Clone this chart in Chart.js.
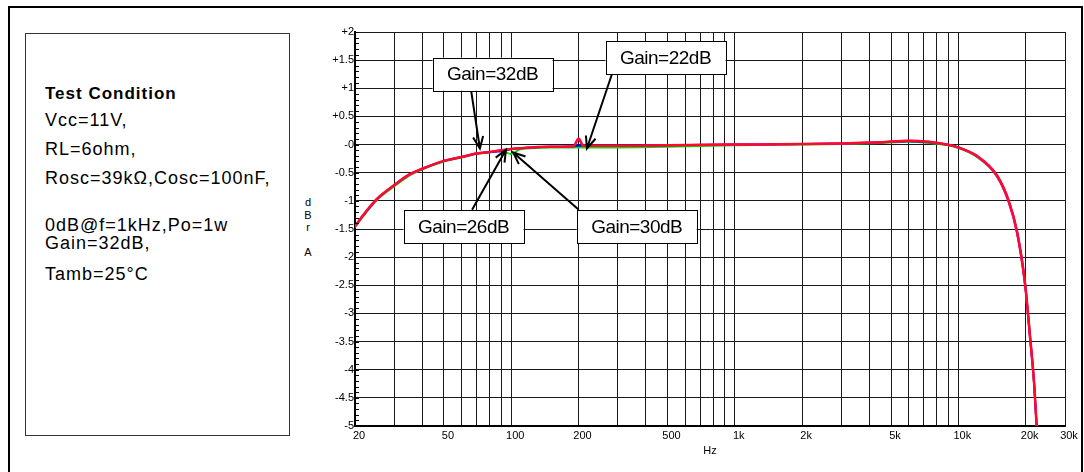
<!DOCTYPE html>
<html lang="en">
<head>
<meta charset="UTF-8">
<title>Frequency response</title>
<script src="https://cdn.jsdelivr.net/npm/chart.js@4.4.0/dist/chart.umd.min.js"></script>
<style>
  html, body { margin: 0; padding: 0; background: #fff; }
  body { width: 1084px; height: 472px; position: relative; overflow: hidden; font-family: 'Liberation Sans', Arial, sans-serif; }
  #frame { position: absolute; left: 8px; top: 6px; width: 1071px; height: 480px; border: 2px solid #000; }
  #cond { position: absolute; left: 25px; top: 33px; width: 263px; height: 401px; border: 1px solid #333; }
  #cond div { position: absolute; left: 19px; font-size: 18px; line-height: 20px; color: #000; white-space: nowrap; letter-spacing: 1px; }
  #cond .hd { font-weight: bold; font-size: 17px; letter-spacing: 1px; }
  #ylab { position: absolute; left: 302px; top: 196px; width: 12px; text-align: center; font-size: 11px; line-height: 12.5px; color: #000; }
  #chart { position: absolute; left: 0; top: 0; }
</style>
</head>
<body>
<div id="frame"></div>
<div id="cond">
  <div class="hd" style="top:50px">Test Condition</div>
  <div style="top:76px">Vcc=11V,</div>
  <div style="top:105px">RL=6ohm,</div>
  <div style="top:134px">Rosc=39kΩ,Cosc=100nF,</div>
  <div style="top:181px">0dB@f=1kHz,Po=1w</div>
  <div style="top:199px">Gain=32dB,</div>
  <div style="top:230px">Tamb=25°C</div>
</div>
<div id="ylab">d<br>B<br>r<br><br>A</div>
<canvas id="chart" width="1084" height="472"></canvas>
<script>
// frequency points (Hz)
const freqHz = [20, 22, 25, 30, 35, 40, 50, 60, 70, 80, 90, 100, 110, 150, 190, 200, 210, 300, 500,
  1000, 2000, 3000, 4500, 6000, 7400, 8900, 10000, 12100, 14900, 16800, 18300, 19900, 20900, 21800, 22400];

// response in dBr for each gain setting
const gain32 = [-1.45, -1.23, -0.97, -0.72, -0.53, -0.43, -0.29, -0.22, -0.16, -0.13, -0.10, -0.08, -0.065, -0.04, -0.03, 0.11, -0.02, -0.02, -0.01,
  0, 0.01, 0.02, 0.04, 0.07, 0.05, 0, -0.05, -0.2, -0.55, -1.0, -1.54, -2.48, -3.38, -4.21, -5.0];
const gain22 = [-1.46, -1.24, -0.98, -0.72, -0.54, -0.43, -0.29, -0.22, -0.16, -0.13, -0.10, -0.08, -0.065, -0.04, -0.03, 0.09, -0.02, -0.02, -0.01,
  0, 0.01, 0.02, 0.04, 0.07, 0.05, 0, -0.05, -0.21, -0.57, -1.03, -1.58, -2.52, -3.42, -4.25, -5.0];
const gain26 = [-1.45, -1.23, -0.97, -0.72, -0.53, -0.43, -0.29, -0.22, -0.16, -0.13, -0.12, -0.08, -0.065, -0.04, -0.03, -0.02, -0.02, -0.02, -0.01,
  0, 0.01, 0.02, 0.04, 0.06, 0.04, 0, -0.05, -0.2, -0.55, -1.0, -1.54, -2.48, -3.38, -4.21, -5.0];
const gain30 = [-1.47, -1.25, -0.99, -0.74, -0.55, -0.44, -0.30, -0.23, -0.17, -0.14, -0.11, -0.17, -0.08, -0.05, -0.05, -0.05, -0.05, -0.05, -0.04,
  -0.01, 0, 0.01, 0.03, 0.05, 0.03, -0.01, -0.06, -0.22, -0.57, -1.02, -1.56, -2.5, -3.4, -4.23, -5.0];

// axes
const xGridValues = [20, 30, 40, 50, 60, 70, 80, 90, 100, 200, 300, 400, 500, 600, 700, 800, 900,
  1000, 2000, 3000, 4000, 5000, 6000, 7000, 8000, 9000, 10000, 20000, 30000];
const xLabelValues = [20, 50, 100, 200, 500, 1000, 2000, 5000, 10000, 20000, 30000];
const xLabelTexts = ['20', '50', '100', '200', '500', '1k', '2k', '5k', '10k', '20k', '30k'];
const yTickValues = [-5, -4.5, -4, -3.5, -3, -2.5, -2, -1.5, -1, -0.5, 0, 0.5, 1, 1.5, 2];
const yTickLabels = ['-5', '-4.5', '-4', '-3.5', '-3', '-2.5', '-2', '-1.5', '-1', '-0.5', '-0', '+0.5', '+1', '+1.5', '+2'];

// callouts: label, box centre, arrow tail, arrow tip (Hz, dBr)
const calloutText = ['Gain=32dB', 'Gain=22dB', 'Gain=26dB', 'Gain=30dB'];
const calloutBoxHz = [82.5, 490, 61.2, 364];
const calloutBoxDb = [1.25, 1.54, -1.455, -1.455];
const calloutTailHz = [66.2, 282, 66.8, 200.5];
const calloutTailDb = [0.95, 1.25, -1.16, -1.16];
const calloutTipHz = [72.4, 218, 94.7, 102];
const calloutTipDb = [-0.07, -0.07, -0.09, -0.14];

const FONT = "'Liberation Sans', Arial, sans-serif";
const toPts = arr => freqHz.map((f, i) => ({ x: f, y: arr[i] }));

const minorTicks = {
  id: 'minorTicks',
  afterDraw(chart) {
    const ctx = chart.ctx, y = chart.scales.y, left = chart.chartArea.left;
    ctx.save();
    ctx.strokeStyle = '#000';
    ctx.lineWidth = 1;
    for (let k = -50; k <= 20; k++) {
      const py = Math.round(y.getPixelForValue(k / 10)) + 0.5;
      ctx.beginPath();
      ctx.moveTo(left, py);
      ctx.lineTo(left + 4, py);
      ctx.stroke();
    }
    ctx.restore();
  }
};

const callouts = {
  id: 'callouts',
  afterDatasetsDraw(chart) {
    const ctx = chart.ctx, sx = chart.scales.x, sy = chart.scales.y;
    ctx.save();
    ctx.strokeStyle = '#000';
    ctx.lineWidth = 2;
    calloutText.forEach((t, i) => {
      const x0 = sx.getPixelForValue(calloutTailHz[i]), y0 = sy.getPixelForValue(calloutTailDb[i]);
      const x1 = sx.getPixelForValue(calloutTipHz[i]), y1 = sy.getPixelForValue(calloutTipDb[i]);
      const a = Math.atan2(y1 - y0, x1 - x0);
      ctx.beginPath();
      ctx.moveTo(x0, y0);
      ctx.lineTo(x1, y1);
      ctx.moveTo(x1 - 13 * Math.cos(a - 0.4), y1 - 13 * Math.sin(a - 0.4));
      ctx.lineTo(x1, y1);
      ctx.lineTo(x1 - 13 * Math.cos(a + 0.4), y1 - 13 * Math.sin(a + 0.4));
      ctx.stroke();
    });
    ctx.lineWidth = 1;
    ctx.font = '19px ' + FONT;
    ctx.textAlign = 'center';
    ctx.textBaseline = 'middle';
    if ('letterSpacing' in ctx) ctx.letterSpacing = '-0.5px';
    calloutText.forEach((t, i) => {
      const cx = sx.getPixelForValue(calloutBoxHz[i]), cy = sy.getPixelForValue(calloutBoxDb[i]);
      const w = 120, h = 33;
      ctx.fillStyle = '#fff';
      ctx.fillRect(cx - w / 2, cy - h / 2, w, h);
      ctx.strokeRect(Math.round(cx - w / 2) + 0.5, Math.round(cy - h / 2) + 0.5, w, h);
      ctx.fillStyle = '#000';
      ctx.fillText(t, cx, cy + 1);
    });
    ctx.restore();
  }
};

new Chart(document.getElementById('chart'), {
  type: 'line',
  data: {
    datasets: [
      { label: 'Gain=32dB', data: toPts(gain32), borderColor: '#ff0a2a', borderWidth: 2.5 },
      { label: 'Gain=22dB', data: toPts(gain22), borderColor: '#ff00ff', borderWidth: 2 },
      { label: 'Gain=26dB', data: toPts(gain26), borderColor: '#0000ff', borderWidth: 2 },
      { label: 'Gain=30dB', data: toPts(gain30), borderColor: '#00e000', borderWidth: 2 }
    ]
  },
  options: {
    responsive: false,
    animation: false,
    events: [],
    elements: { point: { radius: 0 }, line: { cubicInterpolationMode: 'monotone' } },
    layout: { padding: { left: 300, right: 19, top: 32, bottom: 10 } },
    plugins: { legend: { display: false }, tooltip: { enabled: false } },
    scales: {
      x: {
        type: 'logarithmic', min: 20, max: 30000,
        afterBuildTicks: s => { s.ticks = xGridValues.map(v => ({ value: v })); },
        afterFit: s => { s.height = 36; },
        grid: { color: '#1a1a1a', lineWidth: 1, drawTicks: false },
        border: { color: '#000', width: 2 },
        ticks: {
          autoSkip: false, maxRotation: 0, minRotation: 0, padding: 3, labelOffset: 4,
          color: '#000', font: { family: FONT, size: 11 },
          callback: v => { const i = xLabelValues.indexOf(v); return i >= 0 ? xLabelTexts[i] : ''; }
        },
        title: { display: true, text: 'Hz', color: '#000', font: { family: FONT, size: 11 }, padding: { top: 0, bottom: 4 } }
      },
      y: {
        type: 'linear', min: -5, max: 2,
        afterBuildTicks: s => { s.ticks = yTickValues.map(v => ({ value: v })); },
        afterFit: s => { s.width = 55; },
        grid: { color: '#1a1a1a', lineWidth: 1, drawTicks: false },
        border: { color: '#000', width: 2 },
        ticks: {
          padding: 1, color: '#000', font: { family: FONT, size: 11 },
          callback: v => yTickLabels[yTickValues.indexOf(v)]
        }
      }
    }
  },
  plugins: [minorTicks, callouts]
});
</script>
</body>
</html>
